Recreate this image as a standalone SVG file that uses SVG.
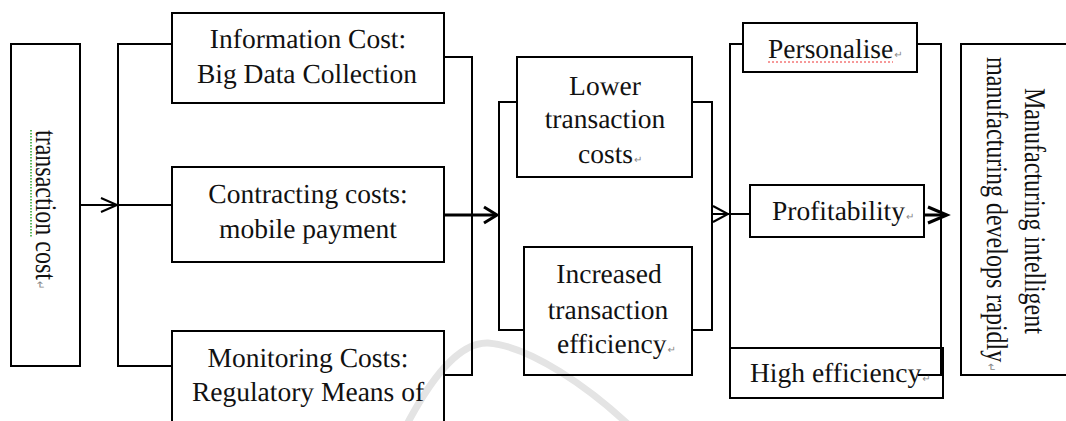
<svg xmlns="http://www.w3.org/2000/svg" width="1066" height="421" viewBox="0 0 1066 421">
  <style>
    text { text-rendering: geometricPrecision; }
    .box { fill: none; stroke: #000; stroke-width: 2; }
    .wire { fill: none; stroke: #000; stroke-width: 2; }
    .heavy { fill: none; stroke: #000; stroke-width: 3; }
    .lbl { font-family: "Liberation Serif", "Times New Roman", serif; font-size: 27.5px; fill: #111; }
    .vlbl { font-family: "Liberation Serif", "Times New Roman", serif; font-size: 24px; fill: #111; }
    .mid { text-anchor: middle; }
    .ret { font-family: "DejaVu Sans", sans-serif; font-size: 10px; fill: #888; }
  </style>
  <rect width="1066" height="421" fill="#fff"/>

  <!-- faint background swoosh -->
  <path d="M405,428 C430,380 458,342 488,343 C530,346 590,388 632,428" fill="none" stroke="#e4e4e4" stroke-width="7"/>

  <g id="connectors">
    <!-- transaction cost -> cost branches -->
    <line class="wire" x1="80" y1="205" x2="117" y2="205"/>
    <polyline class="wire" points="101,198 117,205 101,212"/>
    <path class="wire" d="M172,44 H118 V366 H172 M118,205 H172"/>
    <!-- cost branches -> outcomes -->
    <path class="wire" d="M444,57 H472 V375 H444"/>
    <line class="heavy" x1="444" y1="215" x2="496" y2="215"/>
    <polyline class="heavy" points="484,207 497,215 484,223"/>
    <path class="wire" d="M517,102 H499 V330 H524"/>
    <path class="wire" d="M692,102 H712 V330 H692"/>
    <!-- outcomes -> effects -->
    <line class="wire" x1="712" y1="214" x2="750" y2="214"/>
    <polyline class="wire" points="713,206 728,214 713,222"/>
    <path class="wire" d="M743,44 H730 V348"/>
    <path class="wire" d="M917,44 H941 V375 H918"/>
    <!-- effects -> result -->
    <line class="heavy" x1="924" y1="215" x2="946" y2="215"/>
    <polyline class="heavy" points="928,207 947,215 928,223"/>
  </g>

  <g id="node-transaction-cost">
    <rect class="box" x="11" y="44" width="69" height="322"/>
    <line x1="31" y1="130" x2="31" y2="237" stroke="#5cb85c" stroke-width="2" stroke-dasharray="1.5 1.5"/>
    <text class="vlbl" transform="translate(36,130) rotate(90) scale(1,1.25)">transaction cost<tspan class="ret" dx="1">↵</tspan></text>
  </g>

  <g id="node-information-cost">
    <rect class="box" x="172" y="13" width="272" height="90"/>
    <text class="lbl mid" x="308" y="48">Information Cost:</text>
    <text class="lbl mid" x="307" y="83">Big Data Collection</text>
  </g>

  <g id="node-contracting-costs">
    <rect class="box" x="172" y="167" width="272" height="95"/>
    <text class="lbl mid" x="308" y="203">Contracting costs:</text>
    <text class="lbl mid" x="308" y="238">mobile payment</text>
  </g>

  <g id="node-monitoring-costs">
    <rect class="box" x="172" y="331" width="272" height="100"/>
    <text class="lbl mid" x="308" y="367">Monitoring Costs:</text>
    <text class="lbl mid" x="308" y="401">Regulatory Means of</text>
  </g>

  <g id="node-lower-costs">
    <rect class="box" x="517" y="57" width="175" height="120"/>
    <text class="lbl mid" x="605" y="95">Lower</text>
    <text class="lbl mid" x="605" y="128">transaction</text>
    <text class="lbl" x="578" y="163">costs<tspan class="ret" dx="1">↵</tspan></text>
  </g>

  <g id="node-increased-efficiency">
    <rect class="box" x="524" y="247" width="168" height="128"/>
    <text class="lbl mid" x="609" y="283">Increased</text>
    <text class="lbl mid" x="608" y="319">transaction</text>
    <text class="lbl" x="557" y="353">efficiency<tspan class="ret" dx="1">↵</tspan></text>
  </g>

  <g id="node-personalise">
    <rect class="box" x="743" y="23" width="174" height="49"/>
    <line x1="768" y1="62" x2="893" y2="62" stroke="#e33" stroke-width="1" stroke-dasharray="2 2"/>
    <text class="lbl" x="768" y="58">Personalise<tspan class="ret" dx="1">↵</tspan></text>
  </g>

  <g id="node-profitability">
    <rect class="box" x="750" y="185" width="174" height="52"/>
    <text class="lbl" x="772" y="220">Profitability<tspan class="ret" dx="1">↵</tspan></text>
  </g>

  <g id="node-high-efficiency">
    <rect class="box" x="730" y="348" width="213" height="50"/>
    <text class="lbl" x="750" y="382">High efficiency<tspan class="ret" dx="1">↵</tspan></text>
  </g>

  <g id="node-result">
    <rect class="box" x="961" y="44" width="110" height="331"/>
    <text class="vlbl" transform="translate(1025,88) rotate(90) scale(1,1.25)">Manufacturing intelligent</text>
    <text class="vlbl" transform="translate(987,57) rotate(90) scale(1,1.25)">manufacturing develops rapidly<tspan class="ret" dx="1">↵</tspan></text>
  </g>
</svg>
